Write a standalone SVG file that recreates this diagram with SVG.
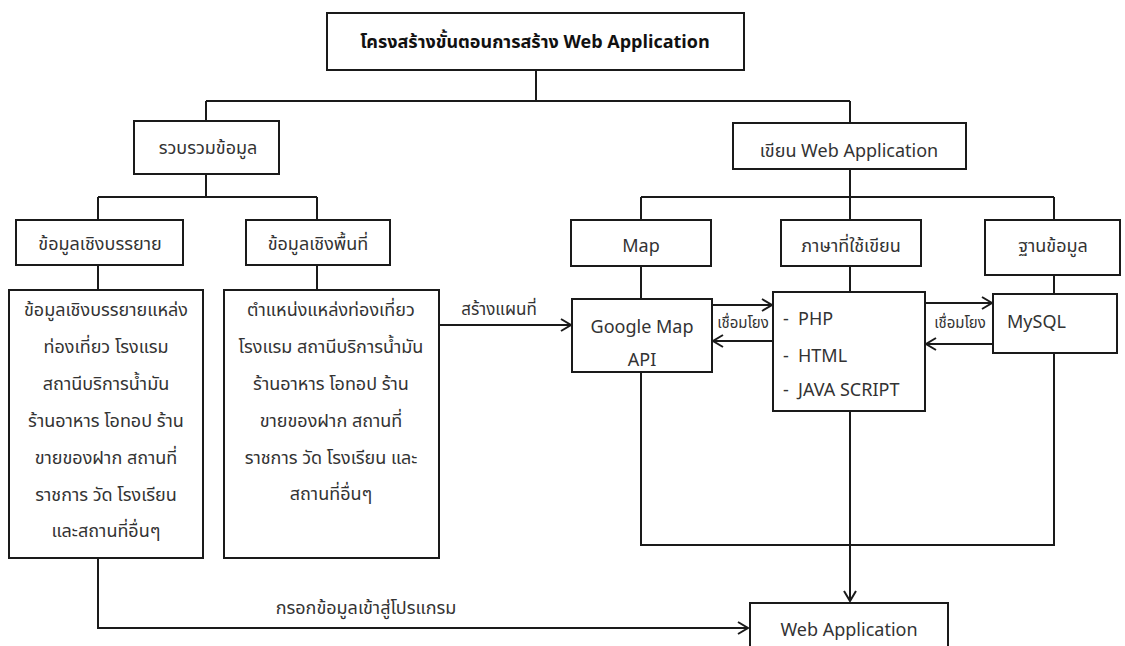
<svg xmlns="http://www.w3.org/2000/svg" width="1125" height="646" viewBox="0 0 1125 646">
<style>
.box{fill:#fff;stroke:#1a1a1a;stroke-width:2}
.ln{fill:none;stroke:#1a1a1a;stroke-width:2}
text{font-family:"Noto Sans Thai","Leelawadee UI",Tahoma,"Noto Sans","DejaVu Sans",sans-serif;fill:#333;font-size:18px;text-anchor:middle;dominant-baseline:central}
.title{font-weight:bold;font-size:18px;fill:#111}
.sm{font-size:15px}
.lt{text-anchor:start}
</style>
<defs>
<marker id="arr" markerUnits="userSpaceOnUse" markerWidth="14" markerHeight="16" refX="11" refY="7" orient="auto">
<path d="M1,1 L11,7 L1,13" fill="none" stroke="#1a1a1a" stroke-width="2"/>
</marker>
</defs>
<rect width="1125" height="646" fill="#fff"/>
<g id="connectors">
<path class="ln" d="M536,70 V101 M206,101 H850 M206,101 V121 M850,101 V123"/>
<path class="ln" d="M206,174 V197 M98,197 H317 M98,197 V220 M317,197 V220 M98,265 V290 M317,265 V290"/>
<path class="ln" d="M850,169 V197 M641,197 H1054 M641,197 V220 M850,197 V220 M1054,197 V220"/>
<path class="ln" d="M641,266 V299 M850,266 V292 M1054,275 V294"/>
<path class="ln" d="M641,372 V545 H1054 V353"/>
<path class="ln" d="M850,411 V601" marker-end="url(#arr)"/>
<path class="ln" d="M98,558 V628 H748" marker-end="url(#arr)"/>
<path class="ln" d="M439,325 H571" marker-end="url(#arr)"/>
<path class="ln" d="M712,305 H772" marker-end="url(#arr)"/>
<path class="ln" d="M773,341 H713" marker-end="url(#arr)"/>
<path class="ln" d="M925,303 H992" marker-end="url(#arr)"/>
<path class="ln" d="M993,344 H926" marker-end="url(#arr)"/>
<text x="499" y="310" style="font-size:17px">สร้างแผนที่</text>
<text class="sm" x="743" y="323">เชื่อมโยง</text>
<text class="sm" x="960" y="323">เชื่อมโยง</text>
<text x="366" y="608">กรอกข้อมูลเข้าสู่โปรแกรม</text>
</g>
<g id="n-title"><rect class="box" x="327" y="13" width="417" height="57"/><text class="title" x="535" y="42">โครงสร้างขั้นตอนการสร้าง Web Application</text></g>
<g id="n-collect"><rect class="box" x="134" y="121" width="145" height="53"/><text x="208" y="148">รวบรวมข้อมูล</text></g>
<g id="n-desc"><rect class="box" x="16" y="220" width="167" height="45"/><text x="100" y="244">ข้อมูลเชิงบรรยาย</text></g>
<g id="n-spatial"><rect class="box" x="246" y="220" width="144" height="45"/><text x="318" y="244">ข้อมูลเชิงพื้นที่</text></g>
<g id="n-desc-detail"><rect class="box" x="9" y="290" width="194" height="268"/>
<text x="106" y="310">ข้อมูลเชิงบรรยายแหล่ง</text>
<text x="106" y="347">ท่องเที่ยว โรงแรม</text>
<text x="106" y="384">สถานีบริการน้ำมัน</text>
<text x="106" y="421">ร้านอาหาร โอทอป ร้าน</text>
<text x="106" y="458">ขายของฝาก สถานที่</text>
<text x="106" y="495">ราชการ วัด โรงเรียน</text>
<text x="106" y="531">และสถานที่อื่นๆ</text>
</g>
<g id="n-spatial-detail"><rect class="box" x="224" y="290" width="215" height="268"/>
<text x="331" y="310">ตำแหน่งแหล่งท่องเที่ยว</text>
<text x="331" y="347">โรงแรม สถานีบริการน้ำมัน</text>
<text x="331" y="384">ร้านอาหาร โอทอป ร้าน</text>
<text x="331" y="421">ขายของฝาก สถานที่</text>
<text x="331" y="458">ราชการ วัด โรงเรียน และ</text>
<text x="331" y="494">สถานที่อื่นๆ</text>
</g>
<g id="n-write"><rect class="box" x="733" y="123" width="233" height="46"/><text x="849" y="151">เขียน Web Application</text></g>
<g id="n-map"><rect class="box" x="571" y="220" width="140" height="46"/><text x="641" y="246">Map</text></g>
<g id="n-lang"><rect class="box" x="781" y="220" width="140" height="46"/><text x="851" y="246">ภาษาที่ใช้เขียน</text></g>
<g id="n-db"><rect class="box" x="985" y="220" width="135" height="55"/><text x="1053" y="246">ฐานข้อมูล</text></g>
<g id="n-gmap"><rect class="box" x="572" y="299" width="140" height="73"/><text x="642" y="327">Google Map</text><text x="642" y="360">API</text></g>
<g id="n-code"><rect class="box" x="773" y="292" width="152" height="119"/>
<text class="lt" x="783" y="319">-</text><text class="lt" x="798" y="319">PHP</text>
<text class="lt" x="783" y="356">-</text><text class="lt" x="798" y="356">HTML</text>
<text class="lt" x="783" y="390">-</text><text class="lt" x="798" y="390">JAVA SCRIPT</text>
</g>
<g id="n-mysql"><rect class="box" x="993" y="294" width="124" height="59"/><text class="lt" x="1007" y="322">MySQL</text></g>
<g id="n-webapp"><rect class="box" x="750" y="603" width="198" height="52"/><text x="849" y="630">Web Application</text></g>
</svg>
